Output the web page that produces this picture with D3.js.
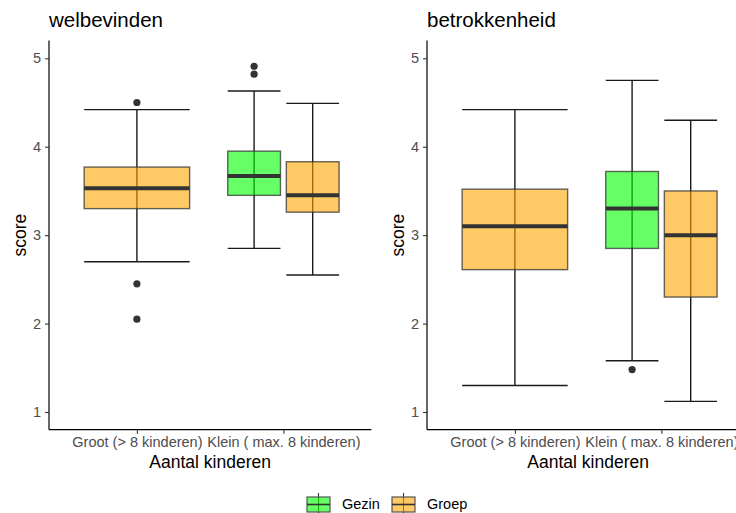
<!DOCTYPE html>
<html>
<head>
<meta charset="utf-8">
<script src="https://cdn.jsdelivr.net/npm/d3@7"></script>
<style>
  body { margin: 0; background: #fff; }
  text { font-family: "Liberation Sans", Arial, sans-serif; }
</style>
</head>
<body>
<svg id="chart" width="736" height="513"></svg>
<script>
// ---- data ----
const categories = ["Groot (> 8 kinderen)", "Klein ( max. 8 kinderen)"];
const groups = ["Gezin", "Groep"];
const groupColors = ["#00ff00", "#ffa500"];
const panelTitles = ["welbevinden", "betrokkenheid"];
const yTicks = [1, 2, 3, 4, 5];

// box statistics: category index, group, lower whisker, q1, median, q3, upper whisker, outliers
const welbevinden = [
  { cat: 0, group: "Groep", lower: 2.70, q1: 3.30, median: 3.53, q3: 3.77, upper: 4.42, outliers: [4.50, 2.45, 2.05] },
  { cat: 1, group: "Gezin", lower: 2.85, q1: 3.45, median: 3.67, q3: 3.95, upper: 4.63, outliers: [4.91, 4.82] },
  { cat: 1, group: "Groep", lower: 2.55, q1: 3.26, median: 3.45, q3: 3.83, upper: 4.49, outliers: [] }
];
const betrokkenheid = [
  { cat: 0, group: "Groep", lower: 1.30, q1: 2.61, median: 3.10, q3: 3.52, upper: 4.42, outliers: [] },
  { cat: 1, group: "Gezin", lower: 1.58, q1: 2.85, median: 3.30, q3: 3.72, upper: 4.75, outliers: [1.48] },
  { cat: 1, group: "Groep", lower: 1.12, q1: 2.30, median: 3.00, q3: 3.50, upper: 4.30, outliers: [] }
];
const panelData = [welbevinden, betrokkenheid];

// ---- layout ----
const svg = d3.select("#chart");
const panelLefts = [49, 427];
const unit = 146.5;           // px per category step
const plotTop = 40.6, plotBottom = 429.7;
const y = d3.scaleLinear().domain([0.8, 5.2]).range([plotBottom, plotTop]);
const color = d3.scaleOrdinal().domain(groups).range(groupColors);

panelData.forEach((data, pi) => {
  const left = panelLefts[pi];
  const x = d3.scaleLinear().domain([0.4, 2.6]).range([left, left + 2.2 * unit]);
  const g = svg.append("g");

  const perCat = d3.rollup(data, v => v.map(d => d.group), d => d.cat);
  const dodgeWidth = 0.8;
  function geom(d) {
    const gs = perCat.get(d.cat);
    const n = gs.length;
    const idx = gs.indexOf(d.group);
    const slot = dodgeWidth / n;
    const center = (d.cat + 1) - dodgeWidth / 2 + slot * (idx + 0.5);
    const w = slot * 0.9;
    return { cx: x(center), x0: x(center - w / 2), x1: x(center + w / 2) };
  }

  const boxes = g.selectAll("g.box").data(data).join("g").attr("class", "box");

  boxes.each(function(d) {
    const s = d3.select(this);
    const p = geom(d);
    s.append("line").attr("x1", p.cx).attr("x2", p.cx)
      .attr("y1", y(d.lower)).attr("y2", y(d.upper))
      .attr("stroke", "#1a1a1a").attr("stroke-width", 1.4);
    [d.lower, d.upper].forEach(v => {
      s.append("line").attr("x1", p.x0).attr("x2", p.x1)
        .attr("y1", y(v)).attr("y2", y(v))
        .attr("stroke", "#1a1a1a").attr("stroke-width", 1.4);
    });
    s.append("rect").attr("x", p.x0).attr("width", p.x1 - p.x0)
      .attr("y", y(d.q3)).attr("height", y(d.q1) - y(d.q3))
      .attr("fill", color(d.group)).attr("fill-opacity", 0.6)
      .attr("stroke", "#333333").attr("stroke-opacity", 0.75).attr("stroke-width", 1.4);
    s.append("line").attr("x1", p.x0).attr("x2", p.x1)
      .attr("y1", y(d.median)).attr("y2", y(d.median))
      .attr("stroke", "#333333").attr("stroke-width", 4);
    s.selectAll("circle").data(d.outliers).join("circle")
      .attr("cx", p.cx).attr("cy", v => y(v)).attr("r", 3.6)
      .attr("fill", "#333333");
  });

  // y axis
  const yAxis = d3.axisLeft(y).tickValues(yTicks).tickSize(4).tickPadding(4).tickFormat(d3.format("d"));
  const ya = g.append("g").attr("transform", `translate(${left},0)`).call(yAxis);
  ya.select(".domain").attr("d", `M0,${plotTop}V${plotBottom}`).attr("stroke", "#000").attr("stroke-width", 1.2);
  ya.selectAll(".tick line").attr("stroke", "#333").attr("stroke-width", 1.1);
  ya.selectAll(".tick text").attr("fill", "#4d4d4d").style("font-size", "14.5px")
    .style("font-family", "'Liberation Sans', Arial, sans-serif");

  // x axis
  const xAxis = d3.axisBottom(x).tickValues([1, 2]).tickSize(4).tickPadding(3)
    .tickFormat(i => categories[i - 1]);
  const xa = g.append("g").attr("transform", `translate(0,${plotBottom})`).call(xAxis);
  xa.select(".domain").attr("d", `M${left},0H${left + 2.2 * unit}`).attr("stroke", "#000").attr("stroke-width", 1.2);
  xa.selectAll(".tick line").attr("stroke", "#333").attr("stroke-width", 1.1);
  xa.selectAll(".tick text").attr("fill", "#4d4d4d").style("font-size", "14.5px")
    .style("font-family", "'Liberation Sans', Arial, sans-serif");

  // axis titles
  g.append("text").attr("x", left + 1.1 * unit).attr("y", 468)
    .attr("text-anchor", "middle").style("font-size", "17.5px").attr("fill", "#000")
    .text("Aantal kinderen");
  g.append("text")
    .attr("transform", `translate(${left - 23},${(plotTop + plotBottom) / 2}) rotate(-90)`)
    .attr("text-anchor", "middle").style("font-size", "17.5px").attr("fill", "#000")
    .text("score");

  // panel title
  g.append("text").attr("x", left).attr("y", 27)
    .style("font-size", "20.5px").attr("fill", "#000")
    .text(panelTitles[pi]);
});

// ---- legend ----
const legendX = [307, 392];
const legend = svg.append("g");
groups.forEach((grp, i) => {
  const lx = legendX[i];
  const lg = legend.append("g");
  lg.append("line").attr("x1", lx + 11.5).attr("x2", lx + 11.5).attr("y1", 493).attr("y2", 513)
    .attr("stroke", "#333").attr("stroke-width", 1.1);
  lg.append("rect").attr("x", lx).attr("y", 497).attr("width", 23).attr("height", 15)
    .attr("fill", color(grp)).attr("fill-opacity", 0.6)
    .attr("stroke", "#555").attr("stroke-width", 1.2);
  lg.append("line").attr("x1", lx).attr("x2", lx + 23).attr("y1", 504.5).attr("y2", 504.5)
    .attr("stroke", "#333").attr("stroke-width", 1.6);
  lg.append("text").attr("x", lx + 35).attr("y", 509)
    .style("font-size", "14.5px").attr("fill", "#000").text(grp);
});
</script>
</body>
</html>
